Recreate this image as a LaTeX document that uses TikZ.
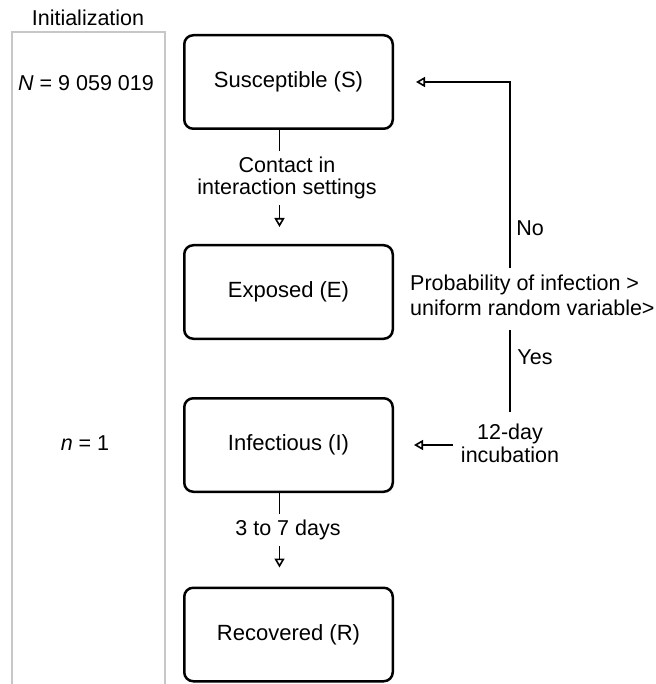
\documentclass[tikz,border=0pt]{standalone}
\usepackage{fontspec}
\setmainfont{Liberation Sans}
\usetikzlibrary{arrows.meta}
\begin{document}
\begin{tikzpicture}[x=1pt,y=-1pt,
  every node/.style={font=\fontsize{21.5}{22}\selectfont},
  box/.style={draw, line width=2.5pt, rounded corners=9pt, minimum width=208.5pt, minimum height=93.5pt, inner sep=0pt, font=\fontsize{22}{22}\selectfont},
  txt/.style={inner sep=0pt},
  conn/.style={line width=1.6pt},
  arr/.style={line width=1.6pt, -{Triangle[open, length=9pt, width=10pt]}},
  frame/.style={draw=black!22, line width=2pt}
]
\useasboundingbox (0,0) rectangle (655,684);
% frame
\node[txt] (init) at (88,18) {Initialization};
\draw[frame] (12,690) -- (12,32) -- (165,32) -- (165,690);
\node[txt] (N) at (86,83) {\textit{N} = 9 059 019};
\node[txt] (n) at (85,443) {\textit{n} = 1};
% boxes
\node[box] (S) at (288.5,82) {Susceptible (S)};
\node[box] (E) at (288.5,292) {Exposed (E)};
\node[box] (I) at (288.5,445) {Infectious (I)};
\node[box] (R) at (288.5,634.5) {Recovered (R)};
% labels
\node[txt, align=center, inner ysep=6pt] (contact) at (287,178) {Contact in\\interaction settings};
\node[txt, inner ysep=6pt] (days) at (288,530) {3 to 7 days};
\node[txt, align=left, anchor=north west, font=\fontsize{21.5}{24.5}\selectfont] (prob) at (410,275) {Probability of infection >\\uniform random variable>};
\node[txt, align=center, anchor=north, inner xsep=8pt, font=\fontsize{21.5}{23}\selectfont] (incub) at (510,424) {12-day\\incubation};
\node[txt] (no) at (530,228) {No};
\node[txt] (yes) at (535,357) {Yes};
% connectors
\draw[conn] ([xshift=-9pt]S.south) -- ([xshift=-9pt]S.south |- contact.north);
\draw[arr, shorten >=17pt] ([xshift=-9pt]S.south |- contact.south) -- ([xshift=-9pt]E.north);
\draw[conn] ([xshift=-9pt]I.south) -- ([xshift=-9pt]I.south |- days.north);
\draw[arr, shorten >=19pt] ([xshift=-9pt]I.south |- days.south) -- ([xshift=-9pt]R.north);
\draw[arr, shorten <=7pt, shorten >=22pt] (incub.north |- prob.north) |- (S.east);
\draw[conn, shorten <=12pt, shorten >=14pt] (incub.north) -- (incub.north |- prob.south);
\draw[arr, shorten >=20pt] (incub.west |- I.east) -- (I.east);
\end{tikzpicture}
\end{document}
